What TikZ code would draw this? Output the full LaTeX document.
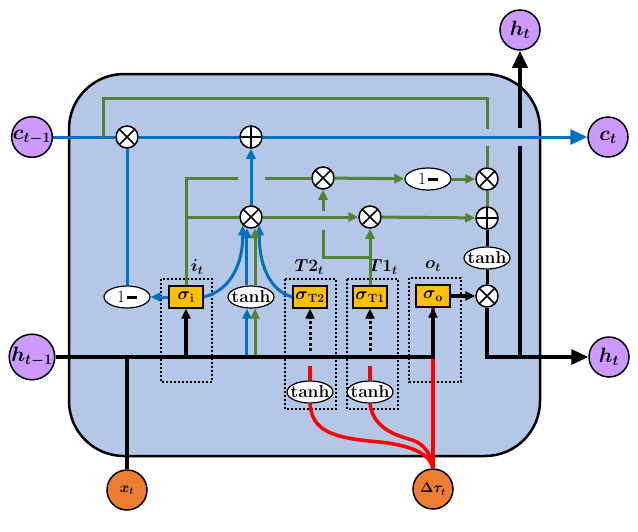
\documentclass[tikz,border=0pt]{standalone}
\usepackage{amsmath,amssymb}
\usetikzlibrary{shapes.geometric,arrows.meta}

\definecolor{cellblue}{RGB}{180,199,231}
\definecolor{cline}{RGB}{0,112,192}
\definecolor{gline}{RGB}{84,130,53}
\definecolor{gold}{RGB}{255,192,0}
\definecolor{lilac}{RGB}{204,153,255}
\definecolor{tangerine}{RGB}{237,125,49}

\tikzset{
  port/.style = {circle, draw, fill=#1, line width=1.5pt,
                 minimum size=40pt, inner sep=0pt},
  port/.default = lilac,
  mulop/.style = {circle, draw, fill=white, line width=1.5pt,
                  minimum size=22pt, inner sep=0pt,
                  path picture={\draw[line width=1.5pt]
                    (path picture bounding box.north west) -- (path picture bounding box.south east)
                    (path picture bounding box.north east) -- (path picture bounding box.south west);}},
  addop/.style = {circle, draw, fill=white, line width=1.5pt,
                  minimum size=22pt, inner sep=0pt,
                  path picture={\draw[line width=1.5pt]
                    (path picture bounding box.north) -- (path picture bounding box.south)
                    (path picture bounding box.west) -- (path picture bounding box.east);}},
  gate/.style = {rectangle, draw, fill=gold, line width=1.2pt,
                 minimum width=34pt, minimum height=22pt, inner sep=0pt},
  act/.style = {ellipse, draw, fill=white, line width=1.2pt,
                minimum width=#1, minimum height=22pt,
                inner xsep=-5pt, inner ysep=-3pt},
  act/.default = 46pt,
  arr/.style = {-{Triangle[length=10pt,width=9pt]}},
  bigarr/.style = {-{Triangle[length=17pt,width=15pt]}}
}
\newcommand{\onem}{{\LARGE 1}\,\rule[4pt]{10pt}{3pt}}

\begin{document}
\begin{tikzpicture}[x=1pt,y=-1pt]
	\def \lw{3pt}
	\def \hw{3.5pt}

	\useasboundingbox (0,0) rectangle (638,531);

	% Cell
	\filldraw[fill=cellblue, line width=2.5pt, rounded corners=55pt] (69,74) rectangle (540,456);

	% Gate boxes
	\draw[line width=2pt, dash pattern=on 2pt off 2pt] (161,279) rectangle (212,382); % i
	\draw[line width=2pt, dash pattern=on 2pt off 2pt] (285,279) rectangle (336,409); % T2
	\draw[line width=2pt, dash pattern=on 2pt off 2pt] (347,279) rectangle (398,409); % T1
	\draw[line width=2pt, dash pattern=on 2pt off 2pt] (409,278) rectangle (461,382); % o

	\node (lab_i)  at (197,267) {\LARGE $\boldsymbol{i_t}$};
	\node (lab_t2) at (309,267) {\LARGE $\boldsymbol{T2_t}$};
	\node (lab_t1) at (383,267) {\LARGE $\boldsymbol{T1_t}$};
	\node (lab_o)  at (433,266) {\LARGE $\boldsymbol{o_t}$};

	% Inputs / outputs
	\node[port] (ctm1) at (32,137)  {\huge $\boldsymbol{c_{t-1}}$};
	\node[port] (htm1) at (32,357)  {\huge $\boldsymbol{h_{t-1}}$};
	\node[port] (htup) at (520,30)  {\huge $\boldsymbol{h_t}$};
	\node[port] (ct)   at (608,137) {\huge $\boldsymbol{c_t}$};
	\node[port] (ht)   at (609,357) {\huge $\boldsymbol{h_t}$};
	\node[port=tangerine] (xt)   at (127,490) {\Large $\boldsymbol{x_t}$};
	\node[port=tangerine] (dtau) at (433,489) {\Large $\boldsymbol{\Delta\tau_t}$};

	% Operators
	\node[mulop] (fx)   at (127,137) {};
	\node[addop] (cadd) at (251,137) {};
	\node[mulop] (mi)   at (251,217) {};
	\node[mulop] (m2)   at (323,178) {};
	\node[mulop] (m3)   at (370,217) {};
	\node[mulop] (m4)   at (487,179) {};
	\node[addop] (add2) at (487,218) {};
	\node[mulop] (mo)   at (487,296) {};
	\node[act] (om1)   at (428,179) {\onem};
	\node[act] (one1)  at (127,297) {\onem};
	\node[act] (tanhc) at (487,258) {\LARGE\textbf{tanh}};
	\node[act] (tanhg) at (251,297) {\LARGE\textbf{tanh}};
	\node[act] (tanh2) at (310,392) {\LARGE\textbf{tanh}};
	\node[act] (tanh1) at (370,392) {\LARGE\textbf{tanh}};

	% Gates
	\node[gate] (si)  at (186,297) {\LARGE $\boldsymbol{\sigma}_{\mathbf{i}}$};
	\node[gate] (st2) at (310,297) {\LARGE $\boldsymbol{\sigma}_{\mathbf{T2}}$};
	\node[gate] (st1) at (370,297) {\LARGE $\boldsymbol{\sigma}_{\mathbf{T1}}$};
	\node[gate] (so)  at (433,296) {\LARGE $\boldsymbol{\sigma}_{\mathbf{o}}$};

	% Free ends
	\coordinate (peep)  at (103,137);
	\coordinate (peepR) at (487,98);
	\coordinate (gapA)  at (487,129);
	\coordinate (gapB)  at (487,146);
	\coordinate (iA)    at (238,178);
	\coordinate (iB)    at (265,178);
	\coordinate (tA)    at (323,257);
	\coordinate (tB)    at (323,230);
	\coordinate (tC)    at (323,211);
	\coordinate (hA)    at (520,357);
	\coordinate (hB)    at (520,146);
	\coordinate (hC)    at (520,128);
	\coordinate (d2)    at (310,351);
	\coordinate (d1)    at (370,351);
	\coordinate (r2)    at (310,366);
	\coordinate (r1)    at (370,366);

	% Time inputs (red)
	\draw[red, line width=\hw] (dtau) -- (so);
	\draw[red, line width=\hw] (r2) -- (tanh2);
	\draw[red, line width=\hw] (r1) -- (tanh1);
	\draw[red, line width=\hw] (tanh2.south) .. controls (312,430) and (330,438) .. (380,442)
	                                       .. controls (415,446) and (430,455) .. (dtau.north);
	\draw[red, line width=\hw] (tanh1.south) .. controls (373,428) and (395,435) .. (412,440)
	                                       .. controls (425,444) and (431,455) .. (dtau.north);

	% Cell state (blue)
	\draw[cline, line width=\lw] (ctm1) -- (fx);
	\draw[cline, line width=\lw] (fx) -- (cadd);
	\draw[cline, line width=\lw, bigarr] (cadd) -- (ct);
	\draw[cline, line width=\lw] (one1) -- (fx);
	\draw[cline, line width=\lw, arr] (si) -- (one1);
	\draw[cline, line width=\lw, arr] (mi) -- (cadd);
	\draw[cline, line width=\lw, arr] (si.east) .. controls (232,290) and (243,262) .. (mi.225);
	\draw[cline, line width=\lw, arr] (st2.west) .. controls (268,290) and (259,262) .. (mi.315);
	\draw[cline, line width=\lw, arr] (mi.250 |- htm1) -- (mi.250 |- tanhg.south);
	\draw[cline, line width=\lw, arr] (mi.250 |- tanhg.north) -- (mi.250);

	% Peepholes and time gates (green)
	\draw[gline, line width=\lw] (peep) |- (peepR) -- (gapA);
	\draw[gline, line width=\lw] (gapB) -- (m4);
	\draw[gline, line width=\lw] (si) |- (iA);
	\draw[gline, line width=\lw] (iB) -- (m2);
	\draw[gline, line width=\lw] (si |- mi) -- (mi);
	\draw[gline, line width=\lw, arr] (mi.290 |- htm1) -- (mi.290 |- tanhg.south);
	\draw[gline, line width=\lw, arr] (mi.290 |- tanhg.north) -- (mi.290);
	\draw[gline, line width=\lw, arr] (mi) -- (m3);
	\draw[gline, line width=\lw, arr] (m3) -- (add2);
	\draw[gline, line width=\lw, arr] (m2) -- (om1);
	\draw[gline, line width=\lw, arr] (om1) -- (m4);
	\draw[gline, line width=\lw] (m4) -- (add2);
	\draw[gline, line width=\lw, arr] (st1) -- (m3);
	\draw[gline, line width=\lw] (st1 |- tA) -- (tA) -- (tB);
	\draw[gline, line width=\lw, arr] (tC) -- (m2);

	% Hidden state (black)
	\draw[line width=\hw, arr] (htm1) -| (so.south);
	\draw[line width=\hw] (xt) -- (xt |- htm1);
	\draw[line width=\hw, arr] (si |- htm1) -- (si);
	\draw[line width=\lw, dash pattern=on 3pt off 2.5pt, arr] (d2) -- (st2);
	\draw[line width=\lw, dash pattern=on 3pt off 2.5pt, arr] (d1) -- (st1);
	\draw[line width=\lw] (add2) -- (tanhc);
	\draw[line width=\lw] (tanhc) -- (mo);
	\draw[line width=\hw, arr] (so) -- (mo);
	\draw[line width=\hw, bigarr] (mo) |- (ht);
	\draw[line width=\hw] (hA) -- (hB);
	\draw[line width=\hw, bigarr] (hC) -- (htup);

\end{tikzpicture}
\end{document}
